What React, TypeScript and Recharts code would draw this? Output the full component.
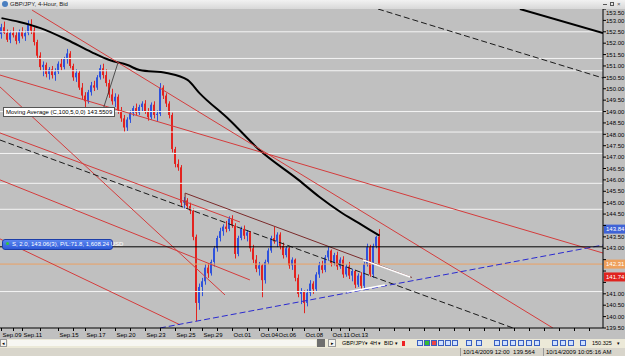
import React from "react";
import { ComposedChart, Bar, Line, XAxis, YAxis, ReferenceLine } from "recharts";

// GBP/JPY 4h bars: [open, high, low, close]
const candles: number[][] = [
  [152.40, 152.85, 152.20, 152.70], [152.70, 152.95, 152.40, 152.45], [152.45, 152.60, 152.05, 152.15],
  [152.15, 152.55, 152.00, 152.45], [152.45, 152.70, 152.25, 152.35], [152.35, 152.50, 151.95, 152.10],
  [152.10, 152.60, 152.00, 152.50], [152.50, 152.70, 152.20, 152.30], [152.30, 152.55, 152.10, 152.45],
  [152.45, 153.00, 152.35, 152.85], [152.85, 153.05, 152.40, 152.55], [152.55, 152.70, 151.90, 152.05],
  [152.05, 152.15, 151.30, 151.45], [151.45, 151.60, 150.80, 150.95], [150.95, 151.20, 150.55, 151.05],
  [151.05, 151.15, 150.50, 150.65], [150.65, 150.95, 150.40, 150.85], [150.85, 151.00, 150.45, 150.60],
  [150.60, 150.90, 150.35, 150.75], [150.75, 151.20, 150.65, 151.10], [151.10, 151.35, 150.80, 150.95],
  [150.95, 151.40, 150.85, 151.30], [151.30, 151.75, 151.10, 151.55], [151.55, 151.65, 150.90, 151.00],
  [151.00, 151.10, 150.35, 150.50], [150.50, 150.85, 150.30, 150.70], [150.70, 150.80, 149.95, 150.05],
  [150.05, 150.25, 149.55, 149.70], [149.70, 149.85, 149.20, 149.45], [149.45, 149.95, 149.35, 149.85],
  [149.85, 150.30, 149.70, 150.15], [150.15, 150.35, 149.90, 150.05], [150.05, 150.60, 149.95, 150.50],
  [150.50, 151.05, 150.40, 150.90], [150.90, 151.10, 150.45, 150.60], [150.60, 150.85, 150.10, 150.25],
  [150.25, 150.40, 149.60, 149.75], [149.75, 150.00, 149.30, 149.45], [149.45, 149.80, 149.20, 149.65],
  [149.65, 149.75, 148.90, 149.05], [149.05, 149.20, 148.55, 148.70], [148.70, 148.85, 148.10, 148.30],
  [148.30, 148.75, 148.15, 148.65], [148.65, 149.05, 148.50, 148.95], [148.95, 149.25, 148.80, 149.15],
  [149.15, 149.35, 148.85, 148.95], [148.95, 149.30, 148.85, 149.20], [149.20, 149.45, 149.00, 149.35],
  [149.35, 149.50, 148.90, 149.00], [149.00, 149.15, 148.60, 148.75], [148.75, 149.40, 148.65, 149.30],
  [149.30, 149.45, 148.70, 148.85], [148.85, 149.05, 148.55, 148.90], [148.90, 150.25, 148.80, 150.05],
  [150.05, 150.15, 149.55, 149.70], [149.70, 149.80, 149.20, 149.35], [149.35, 149.45, 148.70, 148.85],
  [148.85, 148.95, 147.20, 147.35], [147.35, 147.45, 146.55, 146.70], [146.70, 146.90, 146.40, 146.55],
  [146.55, 146.65, 144.80, 145.00], [145.00, 145.25, 144.75, 145.10], [145.10, 145.20, 144.70, 144.85],
  [144.85, 145.00, 144.50, 144.65], [144.65, 144.75, 143.35, 143.50], [143.50, 143.60, 139.80, 140.60],
  [140.60, 141.45, 140.30, 141.30], [141.30, 141.70, 140.90, 141.55], [141.55, 142.30, 141.40, 142.15],
  [142.15, 142.35, 141.70, 141.90], [141.90, 142.50, 141.80, 142.40], [142.40, 143.10, 142.20, 143.00],
  [143.00, 143.55, 142.85, 143.45], [143.45, 143.90, 143.30, 143.75], [143.75, 144.05, 143.55, 143.95],
  [143.95, 144.20, 143.70, 143.85], [143.85, 144.40, 143.75, 144.30], [144.30, 144.45, 143.90, 144.00],
  [144.00, 144.10, 142.55, 142.75], [142.75, 143.55, 142.65, 143.45], [143.45, 143.95, 143.35, 143.85],
  [143.85, 144.00, 143.40, 143.55], [143.55, 143.80, 143.30, 143.70], [143.70, 143.75, 142.85, 143.00],
  [143.00, 143.15, 142.35, 142.50], [142.50, 142.70, 141.95, 142.10], [142.10, 142.40, 141.80, 142.25],
  [142.25, 142.30, 140.85, 141.60], [141.60, 142.50, 141.45, 142.40], [142.40, 143.00, 142.30, 142.90],
  [142.90, 143.55, 142.80, 143.45], [143.45, 143.95, 143.20, 143.30], [143.30, 143.70, 143.05, 143.60],
  [143.60, 143.70, 142.95, 143.10], [143.10, 143.25, 142.55, 142.70], [142.70, 143.10, 142.60, 143.00],
  [143.00, 143.05, 142.10, 142.25], [142.25, 142.60, 142.05, 142.50], [142.50, 142.55, 141.55, 141.70],
  [141.70, 141.85, 140.85, 141.00], [141.00, 141.25, 140.55, 141.10], [141.10, 141.15, 140.15, 140.60],
  [140.60, 141.20, 140.45, 141.05], [141.05, 141.60, 140.90, 141.45], [141.45, 141.55, 141.00, 141.20],
  [141.20, 141.95, 141.10, 141.85], [141.85, 142.40, 141.70, 142.25], [142.25, 142.45, 141.90, 142.05],
  [142.05, 142.70, 141.95, 142.60], [142.60, 143.05, 142.45, 142.90], [142.90, 142.95, 142.20, 142.35],
  [142.35, 142.80, 142.25, 142.70], [142.70, 142.85, 142.05, 142.20], [142.20, 142.60, 142.10, 142.50],
  [142.50, 142.65, 141.70, 141.85], [141.85, 142.30, 141.75, 142.20], [142.20, 142.40, 141.65, 141.80],
  [141.80, 142.10, 141.55, 142.00], [142.00, 142.05, 141.25, 141.40], [141.40, 141.90, 141.30, 141.80],
  [141.80, 141.95, 141.20, 141.35], [141.35, 142.40, 141.25, 142.30], [142.30, 143.20, 142.20, 143.05],
  [143.05, 143.15, 141.75, 141.85], [141.85, 143.20, 141.70, 143.10], [143.10, 143.55, 143.00, 143.50],
  [143.50, 143.84, 142.25, 142.305],
];

// 100-period moving average (close), read at a few bars
const maBars = [0, 6, 13, 22, 30, 36, 42, 46, 55, 62, 66, 76, 86, 99, 106, 113, 119, 126];
const maValues = [153.10, 152.93, 152.66, 152.14, 151.61, 151.26, 151.04, 150.82, 150.69, 150.39, 149.81, 148.63, 147.31, 146.0, 145.25, 144.59, 144.11, 143.55];

const dateLabels = ["Sep.09", "Sep.11", "Sep.15", "Sep.17", "Sep.20", "Sep.23", "Sep.25", "Sep.29", "Oct.01", "Oct.04", "Oct.06", "Oct.08", "Oct.11", "Oct.13"];
const dateBars = [0, 7, 19, 28, 38, 48, 58, 67, 77, 86, 92, 101, 110, 116];

const priceTicks = [139.5, 140, 140.5, 141, 141.5, 142, 142.5, 143, 143.5, 144, 144.5, 145, 145.5, 146, 146.5, 147, 147.5, 148, 148.5, 149, 149.5, 150, 150.5, 151, 151.5, 152, 152.5, 153, 153.5];

// horizontal support/resistance levels (white)
const whiteLevels = [152.5, 151.33, 150.79, 149.0, 148.1, 147.16, 145.85, 144.71, 141.1];
const tradePrice = 143.063;
const bidPrice = 142.305;
const stopPrice = 143.84;
const takePrice = 141.74;
const boxPrices = [stopPrice, bidPrice, takePrice];

// drawn trendlines: [[bar, price], [bar, price]]
const redLines = [
  [[10.2, 153.45], [183.8, 139.5]],
  [[-0.5, 150.6], [200.5, 142.79]],
  [[-0.5, 150.08], [74.5, 140.95]],
  [[-0.5, 143.41], [59.5, 139.64]],
  [[-0.5, 146.0], [82.8, 141.61]],
  [[-0.5, 148.06], [79.5, 144.15]],
];
const maroonLine = [[61.2, 145.42], [136.8, 141.72]];
const maroonTick = [[61.2, 145.42], [61.2, 144.9]];
const blackDashed = [[-0.5, 147.75], [170.5, 139.5]];
const blackDashedTop = [[125.5, 153.5], [200.5, 150.47]];
const blackThick = [[172.8, 153.5], [200.5, 152.44]];
const blueDashed = [[52.8, 139.5], [200.5, 143.14]];
const whiteSegs = [
  [[115.2, 141.08], [127.8, 141.39]],
  [[120.5, 142.49], [136.2, 141.74]],
];
const leader = [[33.8, 149.07], [38.8, 151.13]];

const rows = candles.map((k, i) => ({ t: i, o: k[0], h: k[1], l: k[2], c: k[3], range: [k[2], k[1]] }));
const maData = maBars.map((t, i) => ({ t, v: maValues[i] }));

const xTicks: number[] = [];
dateBars.forEach((b, i) => {
  xTicks.push(b);
  if (i < dateBars.length - 1) xTicks.push(Math.round((b + dateBars[i + 1]) / 2));
});
for (let t = 121; t <= 200; t += 5) xTicks.push(t);

const FONT = "'Liberation Sans', Arial, sans-serif";

function Candle(props: any) {
  const { x, y, width, height, payload } = props;
  const { o, h, l, c } = payload;
  const top = Math.min(y, y + height);
  const hh = Math.abs(height);
  const ppu = h === l ? 0 : hh / (h - l);
  const cx = Math.floor(x + width / 2);
  const bTop = top + (h - Math.max(o, c)) * ppu;
  const bBot = top + (h - Math.min(o, c)) * ppu;
  const col = c >= o ? "#2f52dc" : "#e3231f";
  return (
    <g>
      <rect x={cx} y={top} width={1} height={Math.max(hh, 1)} fill={col} />
      <rect x={cx - 1} y={bTop} width={2} height={Math.max(bBot - bTop, 1)} fill={col} />
    </g>
  );
}

function XTick(props: any) {
  const { x, y, payload } = props;
  const k = dateBars.indexOf(payload.value);
  return (
    <g>
      <line x1={x} y1={y} x2={x} y2={y + 3} stroke="#000" />
      {k >= 0 && (
        <text x={x + 1} y={y + 9} fontSize={6} fontFamily={FONT} fill="#000">{dateLabels[k]}</text>
      )}
    </g>
  );
}

function YTick(props: any) {
  const { x, y, payload } = props;
  // the coloured price boxes sit on top of the scale labels
  const covered = boxPrices.some((b) => Math.abs(b - payload.value) < 0.31);
  return (
    <g>
      <line x1={x} y1={y} x2={x + 3} y2={y} stroke="#000" />
      {!covered && (
        <text x={x + 3} y={Math.max(y + 2.2, 6)} fontSize={6} fontFamily={FONT} fill="#000">{payload.value.toFixed(2)}</text>
      )}
    </g>
  );
}

function PriceBox({ viewBox, value, color }: any) {
  if (!viewBox) return null;
  const x = viewBox.x + viewBox.width;
  return (
    <g>
      <rect x={x + 1} y={viewBox.y - 4.5} width={21} height={9} fill={color} />
      <text x={x + 3} y={viewBox.y + 2.2} fontSize={6} fontFamily={FONT} fill="#fff">{value.toFixed(2)}</text>
    </g>
  );
}

const seg = (s: number[][]) => [{ x: s[0][0], y: s[0][1] }, { x: s[1][0], y: s[1][1] }];

function StockChart() {
  return (
    <ComposedChart width={625} height={330} data={rows} margin={{ top: 0, right: 0, bottom: 0, left: 0 }}>
      <XAxis
        dataKey="t"
        type="number"
        domain={[-0.5, 200.5]}
        allowDataOverflow
        ticks={xTicks}
        interval={0}
        height={11}
        tickSize={0}
        tickMargin={0}
        tick={<XTick />}
        axisLine={{ stroke: "#000" }}
        tickLine={false}
      />
      <YAxis
        orientation="right"
        width={22}
        domain={[139.5, 153.5]}
        allowDataOverflow
        ticks={priceTicks}
        interval={0}
        tickSize={0}
        tickMargin={0}
        tick={<YTick />}
        axisLine={{ stroke: "#000" }}
        tickLine={false}
      />
      {whiteLevels.map((v) => (
        <ReferenceLine key={v} y={v} stroke="#f4f4f4" strokeWidth={1} />
      ))}
      <ReferenceLine y={bidPrice} stroke="#eba063" strokeWidth={1} label={<PriceBox value={bidPrice} color="#eea05c" />} />
      <ReferenceLine y={stopPrice} stroke="none" label={<PriceBox value={stopPrice} color="#3f63d6" />} />
      <ReferenceLine y={takePrice} stroke="none" label={<PriceBox value={takePrice} color="#e0241f" />} />
      <Bar dataKey="range" barSize={2} shape={<Candle />} isAnimationActive={false} />
      <Line data={maData} dataKey="v" type="monotone" stroke="#000" strokeWidth={2} dot={false} isAnimationActive={false} />
      {redLines.map((s, i) => (
        <ReferenceLine key={"r" + i} segment={seg(s)} stroke="#d43c3c" strokeWidth={1} ifOverflow="hidden" />
      ))}
      <ReferenceLine segment={seg(maroonLine)} stroke="#7a2a2a" strokeWidth={1} ifOverflow="hidden" />
      <ReferenceLine segment={seg(maroonTick)} stroke="#7a2a2a" strokeWidth={1} ifOverflow="hidden" />
      <ReferenceLine segment={seg(blackDashed)} stroke="#1a1a1a" strokeDasharray="6 3" ifOverflow="hidden" />
      <ReferenceLine segment={seg(blackDashedTop)} stroke="#1a1a1a" strokeDasharray="6 3" ifOverflow="hidden" />
      <ReferenceLine segment={seg(blackThick)} stroke="#000" strokeWidth={2} ifOverflow="hidden" />
      <ReferenceLine segment={seg(blueDashed)} stroke="#2a2ad0" strokeDasharray="6 3" ifOverflow="hidden" />
      {whiteSegs.map((s, i) => (
        <ReferenceLine key={"w" + i} segment={seg(s)} stroke="#ffffff" strokeWidth={1.5} ifOverflow="hidden" />
      ))}
      <ReferenceLine segment={seg(leader)} stroke="#303030" strokeWidth={0.8} ifOverflow="hidden" />
      <ReferenceLine y={tradePrice} stroke="#000" strokeWidth={1} />
    </ComposedChart>
  );
}

const small: React.CSSProperties = { fontFamily: FONT, fontSize: 6, color: "#000", whiteSpace: "nowrap", position: "absolute" };

const toolbarText = [
  { x: 342, s: "GBP/JPY" },
  { x: 365, s: "▾" },
  { x: 370, s: "4H" },
  { x: 378, s: "▾" },
  { x: 384, s: "BID" },
  { x: 395, s: "▾" },
  { x: 592, s: "150.325" },
  { x: 617, s: "▾" },
];

export default function App() {
  return (
    <div style={{ position: "absolute", left: 0, top: 0, width: 625, height: 356, background: "#c0c0c0", overflow: "hidden" }}>
      {/* window title */}
      <div style={{ position: "absolute", left: 0, top: 0, width: 625, height: 9, background: "linear-gradient(#f2f2f2, #d8d8d8)" }}>
        <div style={{ position: "absolute", left: 2, top: 1, width: 6, height: 6, borderRadius: 3, background: "#4a7fc0" }} />
        <span style={{ ...small, left: 10, top: 0, lineHeight: "9px", color: "#222" }}>GBP/JPY, 4-Hour, Bid</span>
        <div style={{ position: "absolute", left: 603, top: 4, width: 4, height: 1, background: "#555" }} />
        <div style={{ position: "absolute", left: 610, top: 2, width: 4, height: 4, border: "1px solid #555", boxSizing: "border-box" }} />
        <span style={{ ...small, left: 617, top: 0, lineHeight: "8px", color: "#555" }}>×</span>
      </div>
      <div style={{ position: "absolute", left: 0, top: 9 }}>
        <StockChart />
      </div>
      {/* indicator tooltip */}
      <div style={{ ...small, left: 3, top: 107, height: 8, lineHeight: "8px", padding: "0 2px", background: "#fff", border: "1px solid #555" }}>
        Moving Average (C,100,5,0,0) 143.5509
      </div>
      {/* open trade label */}
      <div style={{ ...small, left: 2, top: 239, width: 109, height: 9, lineHeight: "9px", borderRadius: 3, background: "linear-gradient(#5b86f0, #2f5bd8)", border: "1px solid #1d3ea8", color: "#fff" }}>
        <span style={{ display: "inline-block", width: 3, height: 3, borderRadius: 2, background: "#3c3", margin: "0 3px 1px 3px" }} />
        S, 2.0, 143.06(3), P/L:71.8, 1,608.24 USD
      </div>
      {/* scrollbar + toolbar */}
      <div style={{ position: "absolute", left: 0, top: 339, width: 625, height: 9, background: "#ece9d8" }}>
        <div style={{ position: "absolute", left: 0, top: 0, width: 7, height: 8, border: "1px solid #999", background: "#f4f4f0", boxSizing: "border-box", fontSize: 5, lineHeight: "7px", textAlign: "center", fontFamily: FONT }}>◂</div>
        <div style={{ position: "absolute", left: 8, top: 1, width: 308, height: 6, background: "#f7f6f2" }} />
        <div style={{ position: "absolute", left: 317, top: 0, width: 8, height: 8, background: "#6e6e6e" }} />
        <div style={{ position: "absolute", left: 328, top: 0, width: 8, height: 8, border: "1px solid #999", background: "#f4f4f0", boxSizing: "border-box", fontSize: 5, lineHeight: "7px", textAlign: "center", fontFamily: FONT }}>▸</div>
        {toolbarText.map((t) => (
          <span key={t.x} style={{ ...small, left: t.x, top: 0, lineHeight: "9px", fontSize: t.s === "▾" ? 5 : 5.5 }}>{t.s}</span>
        ))}
        <div style={{ position: "absolute", left: 402, top: 2, width: 3, height: 5, background: "#e22" }} />
        {[417, 424, 431, 438, 445, 452, 466, 476, 494, 502, 510, 518, 526, 534, 552, 560, 568, 580].map((x, i) => (
          <div key={x} style={{ position: "absolute", left: x, top: 1, width: 6, height: 6, border: "1px solid #3a5fc0", boxSizing: "border-box", background: i === 1 ? "#3b3" : i === 2 ? "#e44" : "#cfe0ff" }} />
        ))}
      </div>
      {/* status bar */}
      <div style={{ position: "absolute", left: 0, top: 348, width: 625, height: 8, background: "#d8d5cb" }}>
        <div style={{ position: "absolute", left: 460, top: 0, width: 80, height: 8, borderLeft: "1px solid #999" }} />
        <div style={{ position: "absolute", left: 543, top: 0, width: 70, height: 8, borderLeft: "1px solid #999" }} />
        <span style={{ ...small, left: 463, top: 0, lineHeight: "8px" }}>10/14/2009 12:00&nbsp;&nbsp;139.564</span>
        <span style={{ ...small, left: 546, top: 0, lineHeight: "8px" }}>10/14/2009 10:05:16 AM</span>
      </div>
    </div>
  );
}
